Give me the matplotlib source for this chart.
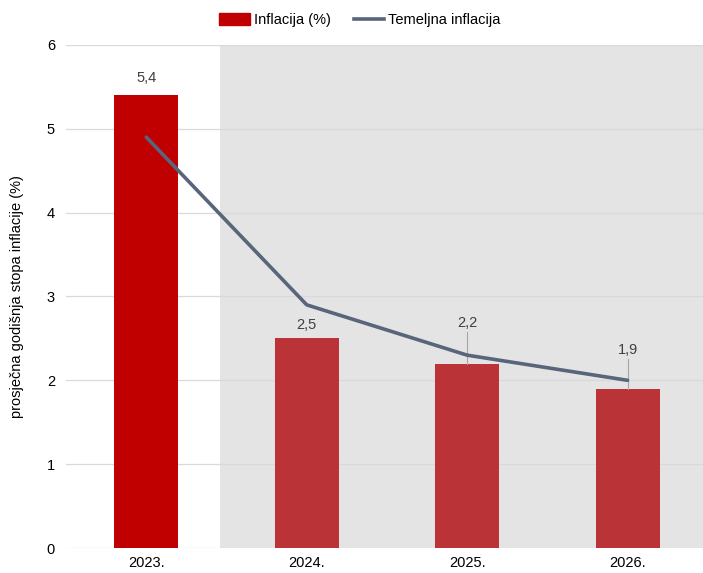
import matplotlib.pyplot as plt
from matplotlib.patches import Patch
from matplotlib.lines import Line2D

years = ['2023.', '2024.', '2025.', '2026.']
inflacija = [5.4, 2.5, 2.2, 1.9]
temeljna = [4.9, 2.9, 2.3, 2.0]
bar_labels = ['5,4', '2,5', '2,2', '1,9']

plt.rcParams['font.family'] = ['Liberation Sans', 'DejaVu Sans']

fig = plt.figure(figsize=(7.03, 5.73), dpi=100)
ax = fig.add_axes([0.094, 0.0436, 0.906, 0.878])

x = list(range(len(years)))
ax.axvspan(0.46, 3.6, color='#E4E4E4', zorder=0, lw=0)

for v in range(7):
    ax.axhline(v, color='#D9D9D9', lw=0.9, zorder=1)

bar_colors = ['#C00000', '#BA3336', '#BA3336', '#BA3336']
ax.bar(x, inflacija, width=0.4, color=bar_colors, zorder=2)
ax.plot(x, temeljna, color='#59657A', lw=2.6, zorder=3, solid_capstyle='round')

# oznake vrijednosti
label_y = [5.52, 2.58, 2.6, 2.28]
for i, (val, txt) in enumerate(zip(inflacija, bar_labels)):
    ax.text(i, label_y[i], txt, ha='center', va='bottom', fontsize=10.5, color='#404040', zorder=5)
    if i >= 2:
        ax.plot([i, i], [val, label_y[i] - 0.02], color='#A6A6A6', lw=0.8, zorder=2.5)

ax.set_xlim(-0.5, 3.47)
ax.set_ylim(0, 6)
ax.set_yticks(range(7))
ax.set_xticks(x)
ax.set_xticklabels(years)
ax.tick_params(length=0, labelsize=10.5, colors='#000000', pad=8)
ax.tick_params(axis='x', pad=6)
for s in ax.spines.values():
    s.set_visible(False)
ax.set_ylabel('prosječna godišnja stopa inflacije (%)', fontsize=10.5, labelpad=16)

handles = [Patch(color='#C00000'), Line2D([0], [0], color='#59657A', lw=2.6)]
fig.legend(handles, ['Inflacija (%)', 'Temeljna inflacija'], loc='upper center',
           bbox_to_anchor=(0.512, 1.0), ncol=2, frameon=False, fontsize=10.5,
           handlelength=2.1, handleheight=0.8, columnspacing=1.6, handletextpad=0.25)

fig.savefig('out.png', dpi=100)
